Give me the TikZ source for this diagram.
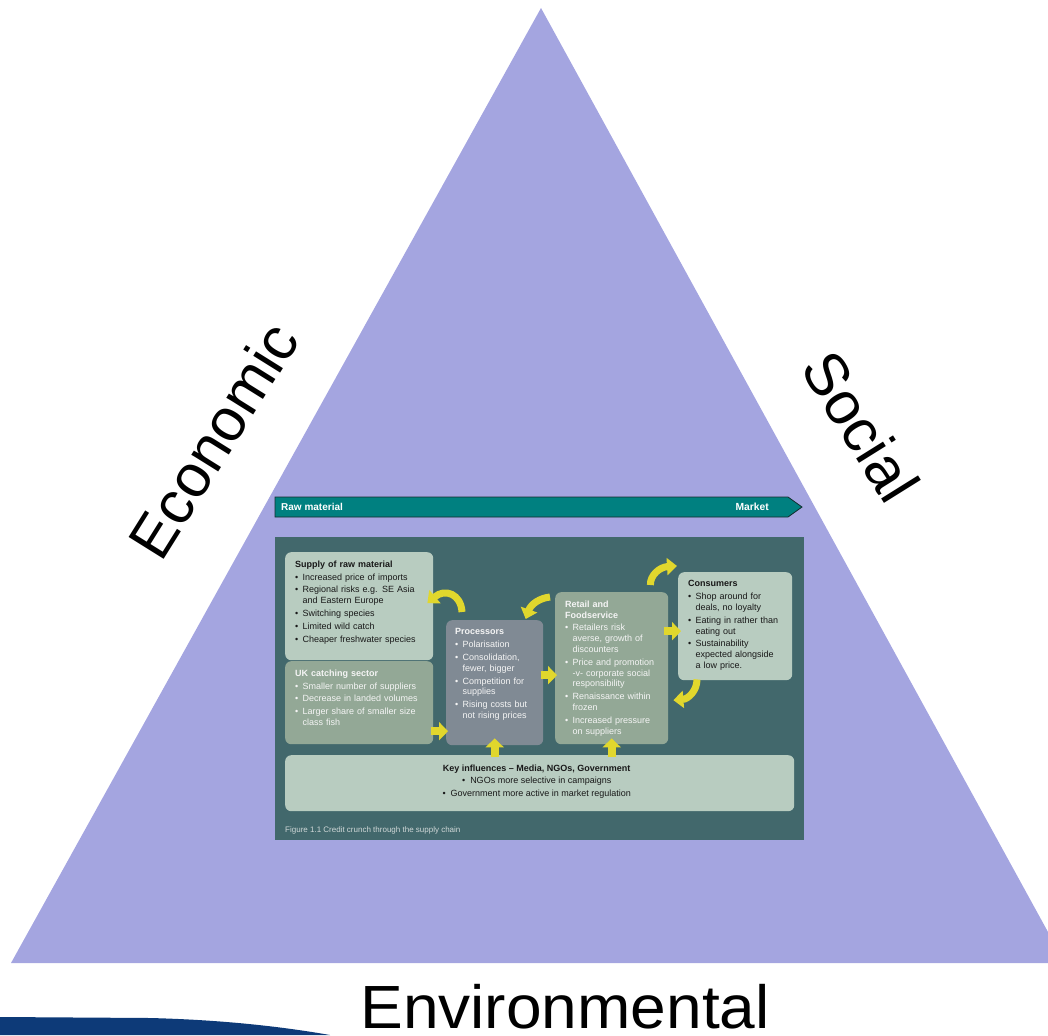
\documentclass[tikz,border=0pt]{standalone}
\usepackage{fontspec}
\setmainfont{Liberation Sans}
\usetikzlibrary{arrows.meta}
\definecolor{tri}{RGB}{164,165,224}
\definecolor{panel}{RGB}{66,104,108}
\definecolor{lightbox}{RGB}{184,204,192}
\definecolor{midbox}{RGB}{147,168,150}
\definecolor{procbox}{RGB}{128,138,148}
\definecolor{yel}{RGB}{225,215,45}
\definecolor{banner}{RGB}{0,128,128}
\definecolor{bannerline}{RGB}{20,45,45}
\definecolor{swoosh}{RGB}{13,58,120}
\definecolor{captxt}{RGB}{208,216,216}
\newcommand{\boxbreak}{\hfil\break}
\newcommand{\bitm}[1]{\par\hangindent=7.5pt\hangafter=1\noindent\makebox[7.5pt][l]{\textbullet}#1\par}
\tikzset{
  boxshape/.style={rounded corners=6pt, inner sep=0pt, anchor=north west},
  lbox/.style={boxshape, fill=lightbox},
  mbox/.style={boxshape, fill=midbox},
  pbox/.style={boxshape, fill=procbox},
  boxtxt/.style={inner sep=0pt, anchor=north west,
     font=\fontsize{9}{10.8}\selectfont\setlength{\parskip}{2pt}\raggedright},
  darktxt/.style={boxtxt, text=black!90},
  whitetxt/.style={boxtxt, text=white!96!black},
  strarrow/.style={draw=yel, line width=8pt, -{Triangle[width=18pt,length=9pt]}},
  curarrow/.style={draw=yel, line width=7pt, -{Triangle[width=17pt,length=10pt]}},
  biglabel/.style={font=\fontsize{60}{60}\selectfont, text=black, inner sep=0pt}
}
\begin{document}
\begin{tikzpicture}[x=1pt,y=-1pt]
\useasboundingbox (0,0) rectangle (1048,1035);
% triangle
\fill[tri] (541,8) -- (11,963) -- (1048,963) -- (1048,932) -- cycle;
% swoosh
\fill[swoosh] (0,1017) -- (150,1018) .. controls (230,1020) and (290,1028) .. (330,1035) -- (0,1035) -- cycle;
% labels
\node[biglabel, rotate=58] (econ) at (213,440) {Economic};
\node[biglabel, rotate=-58] (soc) at (861,426) {Social};
\node[biglabel, anchor=base, xscale=1.05, font=\fontsize{61}{61}\selectfont] (env) at (565,1028) {Environmental};
% banner
\fill[banner, draw=bannerline, line width=0.8pt] (275,497) -- (788,497) -- (802,507) -- (788,517) -- (275,517) -- cycle;
\node[anchor=west, inner sep=0pt, text=white, font=\fontsize{10}{11}\selectfont\bfseries] (raw) at (281,507) {Raw material};
\node[anchor=east, inner sep=0pt, text=white, font=\fontsize{10.3}{11}\selectfont\bfseries] (mkt) at (769,507) {Market};
% panel
\fill[panel] (275,537) rectangle (804,840);
% boxes
\node[lbox, minimum width=148pt, minimum height=108pt] (supply) at (285,552) {};
\node[mbox, minimum width=148pt, minimum height=83pt] (uk) at (285,661) {};
\node[pbox, minimum width=97pt, minimum height=125pt] (proc) at (446,620) {};
\node[mbox, minimum width=113pt, minimum height=152pt] (retail) at (555,592) {};
\node[lbox, minimum width=114pt, minimum height=108pt] (cons) at (678,572) {};
\node[lbox, minimum width=509pt, minimum height=56pt] (key) at (285,755) {};
% texts
\node[darktxt, text width=136pt] (supplyt) at ([xshift=10pt,yshift=-8.5pt]supply.north west) {\textbf{Supply of raw material}
\bitm{Increased price of imports}
\bitm{Regional risks e.g. SE Asia\boxbreak and Eastern Europe}
\bitm{Switching species}
\bitm{Limited wild catch}
\bitm{Cheaper freshwater species}};
\node[whitetxt, text width=136pt] (ukt) at ([xshift=10pt,yshift=-8.5pt]uk.north west) {\textbf{UK catching sector}
\bitm{Smaller number of suppliers}
\bitm{Decrease in landed volumes}
\bitm{Larger share of smaller size\boxbreak class fish}};
\node[whitetxt, text width=86pt] (proct) at ([xshift=9pt,yshift=-8.5pt]proc.north west) {\textbf{Processors}
\bitm{Polarisation}
\bitm{Consolidation,\boxbreak fewer, bigger}
\bitm{Competition for\boxbreak supplies}
\bitm{Rising costs but\boxbreak not rising prices}};
\node[whitetxt, text width=102pt] (retailt) at ([xshift=10pt,yshift=-8.5pt]retail.north west) {\textbf{Retail and\boxbreak Foodservice}
\bitm{Retailers risk\boxbreak averse, growth of\boxbreak discounters}
\bitm{Price and promotion\boxbreak -v- corporate social\boxbreak responsibility}
\bitm{Renaissance within\boxbreak frozen}
\bitm{Increased pressure\boxbreak on suppliers}};
\node[darktxt, text width=102pt] (const) at ([xshift=10pt,yshift=-8.5pt]cons.north west) {\textbf{Consumers}
\bitm{Shop around for\boxbreak deals, no loyalty}
\bitm{Eating in rather than\boxbreak eating out}
\bitm{Sustainability\boxbreak expected alongside\boxbreak a low price.}};
\node[inner sep=0pt, align=center, text=black!90, font=\fontsize{9}{12.6}\selectfont, anchor=north] (keyt) at ([xshift=-3pt,yshift=-9.5pt]key.north) {\textbf{Key influences -- Media, NGOs, Government}\\\textbullet\ \ NGOs more selective in campaigns\\\textbullet\ \ Government more active in market regulation};
\node[anchor=west, inner sep=0pt, text=captxt, font=\fontsize{8}{9}\selectfont] (cap) at (285,830) {Figure 1.1 Credit crunch through the supply chain};
% arrows
\draw[curarrow] ([xshift=16pt,yshift=8pt]proc.north west) .. controls (461,594) and (445,588) .. ([xshift=-6pt,yshift=3pt]supply.east);
\draw[curarrow] ([xshift=-5pt,yshift=-5pt]retail.north west) .. controls (540,598) and (531,604) .. ([xshift=31pt,yshift=1pt]proc.north);
\draw[curarrow] ([xshift=-18pt,yshift=7pt]retail.north east) .. controls (650,575) and (660,567) .. ([xshift=-1pt,yshift=6pt]cons.north west);
\draw[curarrow] ([xshift=19pt,yshift=1pt]cons.south west) .. controls (697,691) and (688,699) .. ([xshift=5pt,yshift=-32pt]retail.east);
\draw[strarrow] ([xshift=-2pt,yshift=-28.5pt]uk.east) -- ([xshift=2pt,yshift=-48.5pt]proc.west);
\draw[strarrow] ([xshift=-2pt,yshift=7.5pt]proc.east) -- ([xshift=2pt,yshift=-7pt]retail.west);
\draw[strarrow] ([xshift=-4pt,yshift=37pt]retail.east) -- ([xshift=3pt,yshift=-5pt]cons.west);
\draw[strarrow] ([xshift=-45pt,yshift=-2pt]key.north) -- ([yshift=7pt]proc.south);
\draw[strarrow] ([xshift=72pt,yshift=-2pt]key.north) -- ([yshift=6pt]retail.south);
\end{tikzpicture}
\end{document}
